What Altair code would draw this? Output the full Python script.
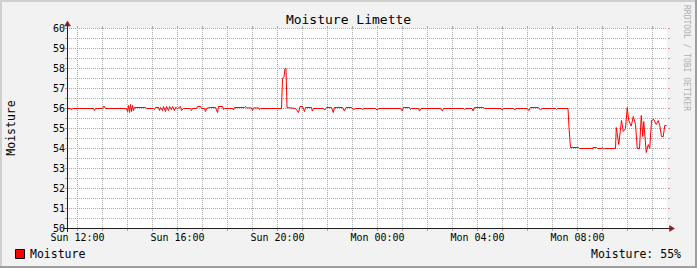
import altair as alt
import pandas as pd

# ---------------- data ----------------
chart_title = "Moisture Limette"
series_name = "Moisture"
y_title = "Moisture"
watermark = "RRDTOOL / TOBI OETIKER"

# time in hours since Sunday 00:00, values in %
hours = [
    11.60, 11.72, 11.76, 11.80, 12.64, 12.68, 12.72, 13.00, 13.06, 13.12,
    13.96, 14.00, 14.04, 14.08, 14.12, 14.16, 14.20, 14.24, 14.28, 14.72, 14.76,
    15.04, 15.08, 15.12, 15.24, 15.28, 15.32, 15.40, 15.44, 15.52, 15.56, 15.64,
    15.68, 15.76, 15.80, 15.88, 15.92, 16.00, 16.12, 16.16, 16.24,
    16.52, 16.56, 16.60, 16.76, 16.80, 16.92, 16.96, 17.08, 17.12, 17.16, 17.28,
    17.52, 17.60, 17.64, 17.80, 17.84, 17.88,
    18.20, 18.24, 18.28, 18.68, 18.72, 18.76, 18.96, 19.00, 19.04, 19.24, 19.28, 19.32,
    20.16, 20.20, 20.26, 20.30, 20.34, 20.38, 20.72, 20.84, 20.90, 21.00, 21.08, 21.12,
    21.36, 21.39, 21.44, 21.84, 21.89, 21.96, 22.16, 22.23, 22.28, 22.60, 22.68, 22.74,
    22.96, 23.04, 23.12, 23.36, 23.41, 23.46, 23.92, 23.99, 24.04, 24.92, 24.99, 25.04,
    25.28, 25.32, 25.36, 25.64, 25.68, 25.74,
    26.52, 26.59, 26.64, 27.44, 27.49, 27.54, 27.78, 27.83, 27.88, 28.24, 28.28,
    28.94, 28.99, 29.04, 29.44, 29.49, 29.54, 30.00, 30.05, 30.12, 30.44, 30.52, 30.58,
    31.12, 31.16, 31.20, 31.62, 31.66, 31.72, 32.04, 32.08, 32.56, 32.59, 32.62,
    32.76, 32.80, 32.96, 32.99, 33.04, 33.08, 33.52,
    33.55, 33.65, 33.76, 33.83, 33.92, 33.99, 34.05, 34.15, 34.23, 34.32, 34.39,
    34.48, 34.55, 34.61, 34.65, 34.75, 34.83, 34.89, 34.96, 35.05, 35.15, 35.23,
    35.29, 35.36, 35.43, 35.49, 35.56,
]
values = [
    56.0, 56.0, 55.93, 56.0, 56.0, 55.9, 56.0, 56.0, 56.12, 56.0,
    56.0, 55.85, 56.15, 55.8, 56.2, 55.85, 56.15, 55.9, 56.05, 56.05, 56.0,
    56.0, 55.95, 56.05, 56.05, 55.9, 56.05, 55.9, 56.1, 55.85, 56.1, 55.9,
    56.1, 55.95, 56.1, 55.9, 56.05, 56.0, 56.1, 55.9, 56.0,
    56.0, 55.9, 56.0, 56.0, 56.1, 56.1, 56.0, 56.0, 55.85, 56.0, 56.05,
    56.05, 55.8, 56.1, 56.1, 55.95, 56.0,
    56.0, 55.93, 56.05, 56.05, 56.1, 56.03, 56.03, 55.9, 56.03, 56.03, 55.95, 56.0,
    56.0, 57.5, 57.6, 58.0, 58.0, 56.05, 56.0, 55.8, 56.1, 56.1, 55.85, 56.05,
    56.05, 55.88, 56.0, 56.0, 55.92, 56.05, 56.05, 55.8, 56.05, 56.05, 55.87, 56.05,
    56.05, 55.95, 56.0, 56.0, 55.95, 56.0, 56.0, 55.92, 56.0, 56.0, 55.88, 56.05,
    56.05, 55.95, 56.0, 56.0, 55.87, 56.0,
    56.0, 55.88, 56.0, 56.0, 55.95, 56.0, 56.0, 55.88, 56.05, 56.05, 56.0,
    56.0, 55.92, 56.0, 56.0, 55.92, 56.0, 56.0, 55.9, 56.05, 56.05, 55.92, 56.0,
    56.0, 55.95, 56.0, 56.0, 55.05, 54.05, 54.05, 54.0, 54.0, 53.97, 54.05,
    54.05, 54.0, 54.0, 54.05, 53.97, 54.0, 54.0,
    55.05, 54.2, 55.4, 54.85, 55.0, 56.05, 55.4, 55.12, 55.6, 55.2, 54.0,
    54.0, 55.65, 54.6, 55.35, 53.8, 54.2, 54.0, 55.4, 55.45, 55.2, 55.4,
    55.15, 54.6, 54.6, 55.15, 55.15,
]

x_domain = [11.6, 35.6]
y_domain = [50, 60]
x_tick_values = [12, 16, 20, 24, 28, 32]
x_tick_labels = ["Sun 12:00", "Sun 16:00", "Sun 20:00", "Mon 00:00", "Mon 04:00", "Mon 08:00"]
y_tick_values = list(range(50, 61))
x_major_grid = list(range(12, 36, 2))
x_minor_grid = list(range(13, 36, 2))
y_major_grid = list(range(51, 61))
y_minor_grid = [v + 0.5 for v in range(50, 60)]

# ---------------- style ----------------
FONT = "DejaVu Sans Mono"
BG = "#F2F2F2"
GRID = "#ABABAB"
MGRID = "#EB8C8C"
AXIS = "#1F1F1F"
ARROW = "#801F1F"
W, H = 600, 200
PL, PT = 67, 28
TOTAL_W, TOTAL_H = 697, 268

# half-pixel range so 1px lines land on pixel centres
xs = alt.Scale(domain=x_domain, range=[0.5, W + 0.5], nice=False, zero=False)
ys = alt.Scale(domain=y_domain, range=[H + 0.5, 0.5], nice=False, zero=False)

df = pd.DataFrame({"h": hours, "v": values})

grid_df = pd.concat([
    pd.DataFrame({"gx": x_minor_grid, "kind": "minor"}),
    pd.DataFrame({"gx": x_major_grid, "kind": "major"}),
])
hgrid_df = pd.concat([
    pd.DataFrame({"gy": y_minor_grid, "kind": "minor"}),
    pd.DataFrame({"gy": y_major_grid, "kind": "major"}),
])
kind_color = alt.Color("kind:N", scale=alt.Scale(domain=["minor", "major"],
                                                  range=[GRID, MGRID]), legend=None)

layers = []
vx = alt.X("gx:Q", scale=xs, axis=None)
hy = alt.Y("gy:Q", scale=ys, axis=None)
vbase = alt.Chart(grid_df)
hbase = alt.Chart(hgrid_df)
layers.append(vbase.mark_rule(strokeWidth=1, strokeDash=[1, 1], strokeCap="butt").encode(
    x=vx, y=alt.value(0), y2=alt.value(H), color=kind_color))
layers.append(hbase.mark_rule(strokeWidth=1, strokeDash=[1, 1], strokeCap="butt").encode(
    y=hy, x=alt.value(0), x2=alt.value(W), color=kind_color))
layers.append(vbase.mark_rule(strokeWidth=1).encode(
    x=vx, y=alt.value(H + 1), y2=alt.value(H + 3), color=kind_color))
layers.append(vbase.mark_rule(strokeWidth=1).encode(
    x=vx, y=alt.value(-2), y2=alt.value(0), color=kind_color))
layers.append(hbase.mark_rule(strokeWidth=1).encode(
    y=hy, x=alt.value(-2), x2=alt.value(0), color=kind_color))
layers.append(hbase.mark_rule(strokeWidth=1).encode(
    y=hy, x=alt.value(W + 1), x2=alt.value(W + 3), color=kind_color))

line = alt.Chart(df).mark_line(color="#FF0000", strokeWidth=1).encode(
    x=alt.X("h:Q", scale=xs, axis=None),
    y=alt.Y("v:Q", scale=ys, axis=None),
)
layers.append(line)

# tick labels placed through the scales
xl = pd.DataFrame({"tx": x_tick_values, "lab": x_tick_labels})
layers.append(alt.Chart(xl).mark_text(
    font=FONT, fontSize=10, color="black", align="center", baseline="alphabetic").encode(
    x=alt.X("tx:Q", scale=xs, axis=None), y=alt.value(241 - PT), text="lab:N"))
yl = pd.DataFrame({"ty": y_tick_values})
layers.append(alt.Chart(yl).mark_text(
    font=FONT, fontSize=10, color="black", align="right", baseline="middle").encode(
    y=alt.Y("ty:Q", scale=ys, axis=None), x=alt.value(65 - PL), text="ty:Q"))

# axes with arrows
layers.append(alt.Chart().mark_rule(color=AXIS, strokeWidth=1).encode(
    x=alt.value(-4), x2=alt.value(W + 5), y=alt.value(H + 0.5)))
layers.append(alt.Chart().mark_rule(color=AXIS, strokeWidth=1).encode(
    x=alt.value(0.5), y=alt.value(H + 4), y2=alt.value(-4)))
layers.append(alt.Chart().mark_point(
    shape="M-3,2.5L3,2.5L0,-2.5Z", size=4, filled=True, fill=ARROW, stroke=ARROW,
    strokeWidth=0.5, opacity=1).encode(x=alt.value(0.5), y=alt.value(-4.5)))
layers.append(alt.Chart().mark_point(
    shape="M-2.5,-3L-2.5,3L2.5,0Z", size=4, filled=True, fill=ARROW, stroke=ARROW,
    strokeWidth=0.5, opacity=1).encode(x=alt.value(W + 5), y=alt.value(H + 0.5)))

# title
layers.append(alt.Chart().mark_text(
    text=chart_title, font=FONT, fontSize=13, color="black", align="center",
    baseline="alphabetic").encode(x=alt.value(TOTAL_W / 2 - PL), y=alt.value(24 - PT)))
# y title
layers.append(alt.Chart().mark_text(
    text=y_title, font=FONT, fontSize=11.5, color="black", align="center",
    baseline="alphabetic", angle=270).encode(x=alt.value(15 - PL), y=alt.value(H / 2)))
# watermark
layers.append(alt.Chart().mark_text(
    text=watermark, font=FONT, fontSize=8, color="#B0B0B0", align="left",
    baseline="alphabetic", angle=90).encode(x=alt.value(684 - PL), y=alt.value(5 - PT)))
# legend
layers.append(alt.Chart().mark_rect(
    fill="#FF0000", stroke="black", strokeWidth=1).encode(
    x=alt.value(15.5 - PL), x2=alt.value(24.5 - PL),
    y=alt.value(249.5 - PT), y2=alt.value(258.5 - PT)))
layers.append(alt.Chart().mark_text(
    text=series_name, font=FONT, fontSize=11.5, color="black", align="left",
    baseline="alphabetic").encode(x=alt.value(30 - PL), y=alt.value(258 - PT)))
layers.append(alt.Chart().mark_text(
    text=f"{series_name}: {round(values[-1])}%", font=FONT, fontSize=11.5,
    color="black", align="right", baseline="alphabetic").encode(
    x=alt.value(681 - PL), y=alt.value(258 - PT)))

# bevel border
SHADE_A = "#CFCFCF"
SHADE_B = "#9E9E9E"
layers.append(alt.Chart().mark_rect(fill=SHADE_A).encode(
    x=alt.value(-PL), x2=alt.value(TOTAL_W - PL), y=alt.value(-PT), y2=alt.value(2 - PT)))
layers.append(alt.Chart().mark_rect(fill=SHADE_A).encode(
    x=alt.value(-PL), x2=alt.value(2 - PL), y=alt.value(-PT), y2=alt.value(TOTAL_H - PT)))
layers.append(alt.Chart().mark_rect(fill=SHADE_B).encode(
    x=alt.value(-PL), x2=alt.value(TOTAL_W - PL), y=alt.value(TOTAL_H - 2 - PT),
    y2=alt.value(TOTAL_H - PT)))
layers.append(alt.Chart().mark_rect(fill=SHADE_B).encode(
    x=alt.value(TOTAL_W - 2 - PL), x2=alt.value(TOTAL_W - PL), y=alt.value(-PT),
    y2=alt.value(TOTAL_H - PT)))

chart = alt.layer(*layers).properties(
    width=W, height=H,
    padding={"left": PL, "top": PT, "right": TOTAL_W - W - PL, "bottom": TOTAL_H - H - PT},
    autosize=alt.AutoSizeParams(type="none"),
    background=BG,
).configure_view(fill="white", strokeWidth=0)

chart.save("out.html", embed_options={"renderer": "svg", "actions": False})
